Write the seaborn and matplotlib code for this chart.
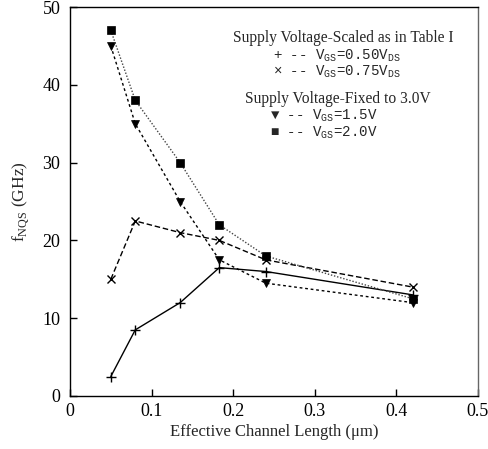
import matplotlib
matplotlib.use("Agg")
import matplotlib.pyplot as plt
import seaborn as sns
import pandas as pd

# Data
lengths = [0.05, 0.08, 0.135, 0.183, 0.24, 0.42]
f_scaled_050 = [2.5, 8.5, 12.0, 16.5, 16.0, 13.0]
f_scaled_075 = [15.0, 22.5, 21.0, 20.0, 17.5, 14.0]
f_fixed_15 = [45.0, 35.0, 25.0, 17.5, 14.5, 12.0]
f_fixed_20 = [47.0, 38.0, 30.0, 22.0, 18.0, 12.5]
x_ticks = [0, 0.1, 0.2, 0.3, 0.4, 0.5]
y_ticks = [0, 10, 20, 30, 40, 50]

sns.set_style("ticks")
plt.rcParams['font.family'] = ['Liberation Serif', 'DejaVu Serif']
plt.rcParams['mathtext.fontset'] = 'custom'
plt.rcParams['mathtext.rm'] = 'Liberation Serif'

fig = plt.figure(figsize=(4.89, 4.49), dpi=100)
ax = fig.add_axes([70/489, 53/449, 408/489, 389/449])

df = pd.DataFrame({"L": lengths, "a": f_scaled_050, "b": f_scaled_075,
                   "c": f_fixed_15, "d": f_fixed_20})

sns.lineplot(data=df, x="L", y="a", ax=ax, color="black", lw=1.0,
             marker="+", markersize=7, mew=1.0, mec="black", linestyle="-")
sns.lineplot(data=df, x="L", y="b", ax=ax, color="black", lw=1.0,
             marker="x", markersize=6, mew=1.0, mec="black", linestyle=(0, (4, 2)))
sns.lineplot(data=df, x="L", y="c", ax=ax, color="black", lw=1.0,
             marker="v", markersize=5.5, mew=0.5, mec="black", mfc="black",
             linestyle=(0, (2, 2)))
sns.lineplot(data=df, x="L", y="d", ax=ax, color="#444444", lw=1.0,
             marker="s", markersize=5.5, mew=0.5, mfc="black", mec="black",
             linestyle=(0, (1, 1.3)))

ax.set_xlim(0, 0.5)
ax.set_ylim(0, 50)
ax.set_xticks(x_ticks)
ax.set_xticklabels([f"{v:g}" for v in x_ticks])
ax.set_yticks(y_ticks)
ax.tick_params(direction="in", length=5, width=1, labelsize=13, pad=7,
               colors="black", top=False, right=False, left=True, bottom=True)
ax.tick_params(axis="x", pad=5)
for s in ax.spines.values():
    s.set_visible(True)
    s.set_color("black")
    s.set_linewidth(1.0)
ax.spines['right'].set_color("#666666")

ax.set_xlabel("Effective Channel Length (\u03bcm)", fontsize=12, labelpad=3)
ax.set_ylabel(r"f$_{\mathrm{NQS}}$ (GHz)", fontsize=12.5, labelpad=8)

# Custom legend
mono = ['Liberation Mono', 'DejaVu Sans Mono']
def fx(px):
    return (px - 70) / 408
def fy(py):
    return (396 - py) / 389

ax.text(fx(343), fy(38), "Supply Voltage-Scaled as in Table I", fontsize=11.2,
        ha="center", va="center", transform=ax.transAxes)
ax.text(fx(273), fy(56), "+ -- V$_{\\mathregular{GS}}$=0.50V$_{\\mathregular{DS}}$",
        fontsize=10.2, family=mono, ha="left", va="center", transform=ax.transAxes)
ax.text(fx(273), fy(72), "\u00d7 -- V$_{\\mathregular{GS}}$=0.75V$_{\\mathregular{DS}}$",
        fontsize=10.2, family=mono, ha="left", va="center", transform=ax.transAxes)
ax.text(fx(338), fy(99), "Supply Voltage-Fixed to 3.0V", fontsize=11.2,
        ha="center", va="center", transform=ax.transAxes)
ax.text(fx(270), fy(116), "\u25bc -- V$_{\\mathregular{GS}}$=1.5V",
        fontsize=10.2, family=mono, ha="left", va="center", transform=ax.transAxes)
ax.text(fx(270), fy(133), "\u25a0 -- V$_{\\mathregular{GS}}$=2.0V",
        fontsize=10.2, family=mono, ha="left", va="center", transform=ax.transAxes)

fig.savefig("out.png", dpi=100)
